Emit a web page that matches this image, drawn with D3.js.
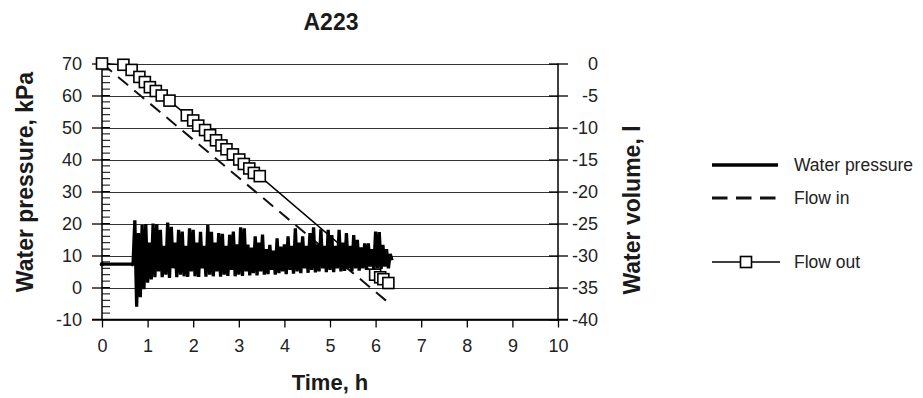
<!DOCTYPE html>
<html><head><meta charset="utf-8">
<script src="https://cdn.jsdelivr.net/npm/d3@7"></script>
<style>body{margin:0;background:#fff}svg{display:block;font-family:"Liberation Sans",Arial,sans-serif}</style>
</head><body><svg id="c" width="923" height="398"></svg>
<script>
const title = "A223";
const xTicks = [0,1,2,3,4,5,6,7,8,9,10];
const yLeftTicks = [70,60,50,40,30,20,10,0,-10];
const yRightTicks = [0,-5,-10,-15,-20,-25,-30,-35,-40];
const yMinorStep = 2;

// Water pressure: initial steady part, then sampled record
const pressureBaseTime = [0, 0.65];
const pressureBaseValue = [7.3, 7.3];
const pressureStart = 0.68, pressureStep = 0.04;
const pressureValues = [
 7,21,-6,17,-3,19.5,-0.5,19.8,1.5,14,
 2.5,20,3.2,19.8,5,18,3.2,13,4,20.3,
 3,19,6,14,3.2,18,4,17.5,3.5,13,
 3.3,18.5,5,18,3.5,14,3.3,17.4,6,13,
 3.4,19.5,4,17.4,3.5,14,5,17,3.4,16.8,
 4,13,3.6,16.5,5.5,17.5,3.5,13.5,4,18.8,
 3.6,18.5,5,13.4,3.8,12.5,4.5,16,3.8,14,
 5,16.5,4,12,4.2,13.3,5.5,11.5,4,15.4,
 4.5,12.8,5,13.5,4.2,16,5.5,13,4.3,18.5,
 5,14,4.5,16,6,13,4.6,17,5.5,18.8,
 4.7,13.5,5,18.2,6,13,4.8,18,5.5,16.4,
 4.8,13,6,18,5,14,5.2,17,6,13,
 5,16.4,6,14.9,5.3,12.5,6,13.8,5.5,13.8,
 6.5,12,5.6,17.5,6,17.3,5.8,13.3,6.5,12,
 6,10.5,8.5
];
const flowInTime = [0, 6.27];
const flowInVolume = [0, -37.3];
const flowOutTime = [0,0.47,0.65,0.82,0.94,1.05,1.18,1.31,1.48,1.86,2.0,2.11,2.26,2.37,2.5,2.62,2.73,2.87,3.01,3.11,3.23,3.33,3.46,5.99,6.10,6.17,6.28];
const flowOutVolume = [0,-0.2,-1.0,-2.1,-2.9,-3.7,-4.3,-5.0,-5.8,-8.1,-8.9,-9.7,-10.4,-11.2,-12.0,-12.8,-13.4,-14.2,-15.0,-15.7,-16.4,-17.1,-17.6,-33.0,-33.4,-33.7,-34.3];
const legendLabels = ["Water pressure","Flow in","Flow out"];

const fmt = d => String(d);
const svg = d3.select("#c");
const x = d3.scaleLinear().domain([0,10]).range([102,558]);
const yL = d3.scaleLinear().domain([-10,70]).range([319.5,63.5]);
const yR = d3.scaleLinear().domain([-40,0]).range([319.5,63.5]);

// gridlines
svg.append("g").selectAll("line").data(yLeftTicks).join("line")
  .attr("x1",x(0)).attr("x2",x(10)).attr("y1",d=>Math.round(yL(d))+0.5).attr("y2",d=>Math.round(yL(d))+0.5)
  .attr("stroke","#333").attr("stroke-width",1);

// left axis
const gl = svg.append("g").attr("transform",`translate(${x(0)},0)`);
gl.call(d3.axisLeft(yL).tickValues(yLeftTicks).tickSize(10).tickPadding(10).tickFormat(fmt));
gl.select(".domain").remove();
gl.selectAll(".tick line").attr("stroke","#000").attr("stroke-width",1.3);
gl.selectAll("text").attr("font-size",18).attr("fill","#222");
const minor = d3.range(-10,70.1,yMinorStep);
gl.append("g").selectAll("line").data(minor).join("line")
  .attr("x1",0).attr("x2",8).attr("y1",d=>yL(d)).attr("y2",d=>yL(d)).attr("stroke","#000").attr("stroke-width",1);

// right axis
const gr = svg.append("g").attr("transform",`translate(${x(10)},0)`);
gr.call(d3.axisRight(yR).tickValues(yRightTicks).tickSize(10).tickPadding(12).tickFormat(fmt));
gr.select(".domain").remove();
gr.selectAll(".tick line").attr("x1",-9).attr("stroke","#000").attr("stroke-width",1.3);
gr.selectAll("text").attr("font-size",18).attr("fill","#222").attr("text-anchor","end").attr("x",40);

// bottom axis
const gb = svg.append("g").attr("transform",`translate(0,${yL(-10)})`);
gb.call(d3.axisBottom(x).tickValues(xTicks).tickSize(8).tickPadding(12).tickFormat(fmt));
gb.select(".domain").remove();
gb.selectAll(".tick line").attr("stroke","#000").attr("stroke-width",1.3);
gb.selectAll("text").attr("font-size",18).attr("fill","#222");

// axis lines
svg.append("line").attr("x1",x(0)).attr("x2",x(0)).attr("y1",yL(70)).attr("y2",yL(-10)).attr("stroke","#000").attr("stroke-width",1.5);
svg.append("line").attr("x1",x(10)).attr("x2",x(10)).attr("y1",yL(70)).attr("y2",yL(-10)).attr("stroke","#000").attr("stroke-width",1.5);
svg.append("line").attr("x1",x(0)-10).attr("x2",x(10)+10).attr("y1",yL(-10)).attr("y2",yL(-10)).attr("stroke","#000").attr("stroke-width",1.5);

// series
const pData = pressureBaseTime.map((t,i)=>[t,pressureBaseValue[i]])
  .concat(pressureValues.map((v,i)=>[pressureStart+i*pressureStep, v]));
const lineL = d3.line().x(d=>x(d[0])).y(d=>yL(d[1]));
const lineR = d3.line().x(d=>x(d[0])).y(d=>yR(d[1]));
svg.append("path").attr("d",lineR(flowInTime.map((t,i)=>[t,flowInVolume[i]])))
  .attr("fill","none").attr("stroke","#111").attr("stroke-width",2).attr("stroke-dasharray","13,8");
svg.append("path").attr("d",lineL(pData)).attr("fill","none").attr("stroke","#000")
  .attr("stroke-width",3.3).attr("stroke-linejoin","bevel");
svg.append("circle").attr("cx",x(0)).attr("cy",yL(pressureBaseValue[0])).attr("r",2.2).attr("fill","#000");
const foData = flowOutTime.map((t,i)=>[t,flowOutVolume[i]]);
svg.append("path").attr("d",lineR(foData)).attr("fill","none").attr("stroke","#000").attr("stroke-width",1.5);
svg.append("g").selectAll("rect").data(foData).join("rect")
  .attr("x",d=>x(d[0])-5.5).attr("y",d=>yR(d[1])-5.5).attr("width",11).attr("height",11)
  .attr("fill","#fff").attr("stroke","#000").attr("stroke-width",1.6);

// titles
svg.append("text").attr("x",331).attr("y",30).attr("text-anchor","middle").attr("font-size",23).attr("font-weight","bold").attr("fill","#1a1a1a").text(title);
svg.append("text").attr("x",330).attr("y",390).attr("text-anchor","middle").attr("font-size",22).attr("font-weight","bold").attr("fill","#1a1a1a").text("Time, h");
svg.append("text").attr("transform","translate(33,182) rotate(-90)").attr("text-anchor","middle").attr("font-size",23).attr("font-weight","bold").attr("fill","#1a1a1a").text("Water pressure, kPa");
svg.append("text").attr("transform","translate(640,210) rotate(-90)").attr("text-anchor","middle").attr("font-size",23).attr("font-weight","bold").attr("fill","#1a1a1a").text("Water volume, l");

// legend
const lg = svg.append("g");
const ly = [165,198,262];
lg.append("line").attr("x1",712).attr("x2",778).attr("y1",ly[0]).attr("y2",ly[0]).attr("stroke","#000").attr("stroke-width",3.5);
lg.append("line").attr("x1",712).attr("x2",776).attr("y1",ly[1]).attr("y2",ly[1]).attr("stroke","#111").attr("stroke-width",3).attr("stroke-dasharray","15.5,8.5");
lg.append("line").attr("x1",712).attr("x2",780).attr("y1",ly[2]).attr("y2",ly[2]).attr("stroke","#000").attr("stroke-width",1.5);
lg.append("rect").attr("x",740.5).attr("y",ly[2]-5.5).attr("width",11).attr("height",11).attr("fill","#fff").attr("stroke","#000").attr("stroke-width",1.6);
lg.selectAll("text").data(legendLabels).join("text").attr("x",794).attr("y",(d,i)=>ly[i]+6).attr("font-size",17.5).attr("fill","#222").text(d=>d);
</script></body></html>
